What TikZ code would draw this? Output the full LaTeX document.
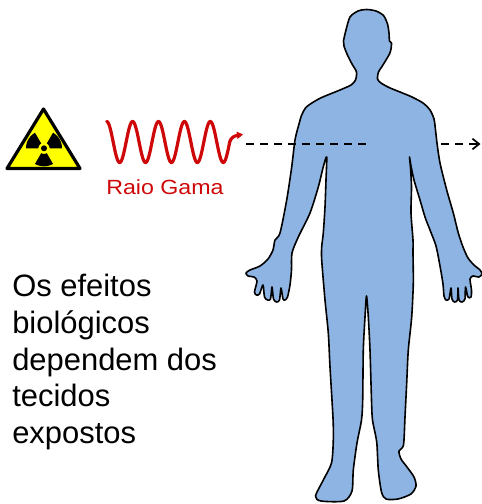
\documentclass[tikz,border=0pt]{standalone}
\usepackage{fontspec}
\setmainfont{Liberation Sans}
\usetikzlibrary{arrows.meta}
\definecolor{rayred}{RGB}{206,8,8}
\definecolor{skinblue}{RGB}{141,180,226}
\definecolor{warnyellow}{RGB}{255,255,0}
\tikzset{
  bodyshape/.style={fill=skinblue, draw=black, line width=1.2pt, line join=round},
  wavestroke/.style={draw=rayred, line width=2.4pt, line cap=round, line join=round},
  raypath/.style={draw=black, line width=1.5pt, dash pattern=on 6pt off 4.5pt},
  warnsign/.style={fill=warnyellow, draw=black, line width=2.4pt, line join=round},
  bodytext/.style={font=\fontsize{23.2pt}{27.5pt}\selectfont, align=left, inner sep=0pt},
  raylabel/.style={font=\fontsize{15.4pt}{18pt}\selectfont, text=rayred, inner sep=0pt}
}
\begin{document}
\begin{tikzpicture}[x=0.75pt, y=-0.75pt]
\useasboundingbox (0,0) rectangle (482,504);

% radiation warning sign
\draw[warnsign] (43.5,109) -- (80,168.5) -- (7,168.5) -- cycle;
\begin{scope}[shift={(44,148.3)}]
  \foreach \a in {90,210,330}{
    \fill[black] plot[domain=\a-30:\a+30, samples=16] (\x:18)
      -- plot[domain=\a+30:\a-30, samples=10] (\x:5.6) -- cycle;
  }
  \fill[black] (0,0) circle[radius=3];
\end{scope}

% gamma ray wave (period 25.9 px, 360/25.9 = 13.9 deg per px)
\draw[wavestroke] plot[domain=0:123.1, samples=240, smooth]
  ({106.7+\x}, {142-20.5*cos(13.9*\x)})
  .. controls (231,138) and (234,135.5) .. (238,135.5);
\fill[rayred] (243,134.5) -- (236.5,131.5) -- (237.5,139) -- cycle;
\node[raylabel, anchor=base west] (raylbl) at (106,194) {\scalebox{1.13}[1]{Raio Gama}};

% human silhouette
\draw[bodyshape] plot[smooth cycle, tension=0.45] coordinates {
  (366.7,9.5) (376,11) (383.5,15.5) (387.5,24) (389,33) (389.5,41) (391.5,43)
  (391,49) (389.5,54) (386,60) (382,66.5) (378.5,72) (377.5,79)
  (381,83) (389,87.5) (400,92) (412,97) (423,103) (430,110) (434,119)
  (435.5,130) (437,143) (440,163) (446.7,190) (453.3,213) (458.3,233)
  (463,247) (468,258) (474,265) (480,270) (482,274) (479,277) (473,276) (470,279)
  (471.5,290) (471,297) (468,297) (465.5,287) (465,299) (462,302) (459,300)
  (458,288) (457.5,300) (454.5,302) (452,299) (451,288) (449,299) (446,300)
  (444,296) (443,284) (440,266) (436,246) (430,230) (425,217) (420,200)
  (414,180) (411,166) (409.5,157)
  (410.5,168) (411.5,187) (411,213) (413,240) (413,253) (413.3,283)
  (411.7,317) (408.3,350) (406.7,383) (405,417) (403.5,445) (399,451)
  (401,459) (407,467) (414,477) (416,486) (411,494) (398,499) (386,499)
  (381.5,492) (378.3,470) (376.7,442) (372.5,420) (371.5,400) (370,350)
  (368.3,317) (366.5,296)
  (365,317) (363.3,350) (362.7,400) (361.5,420) (357,443) (353.3,470)
  (352,491) (344,501) (321,501) (315.5,496) (323.3,480) (331.5,463)
  (333.3,440) (333,418) (330,367) (328.3,333) (325,300) (321.7,260)
  (321.7,247) (323.3,233) (325,207) (326,180) (326.7,157)
  (323.5,166) (318.3,187) (310,213) (298.3,237) (292,253) (291.5,270)
  (290,285) (287.5,297) (285,300) (283,299) (281,288) (279.5,300) (276.5,302)
  (273.5,299) (272,287) (270.5,299) (267.5,300) (264.5,297) (263,285)
  (259.5,294) (256.5,295) (254.5,292) (257,281) (254,277) (248,276) (246,273)
  (250,270) (260,266) (268,259) (273,250) (275,240)
  (280,233) (286.7,200) (291.7,167) (295,140) (299,124) (301.7,115)
  (306.7,106.7) (320,98.3) (340,90) (351,85) (355.5,80) (356.5,72) (352,64)
  (347,54) (344,46) (343.5,41) (346,30) (350,17) (358,11)
};

% ray path through the body
\coordinate (rayStart) at (246,144);
\coordinate (rayIn) at (366,144);
\coordinate (rayOut) at (441,144);
\coordinate (rayEnd) at (480.5,144);
\draw[raypath] (rayStart) -- (rayIn);
\draw[raypath, -{Straight Barb[length=5pt, width=8pt, line width=1.3pt]}] (rayOut) -- (rayEnd);

% caption
\node[bodytext, anchor=north west] (effects) at (12,274)
  {Os efeitos\\biológicos\\dependem dos\\tecidos\\expostos};
\end{tikzpicture}
\end{document}
